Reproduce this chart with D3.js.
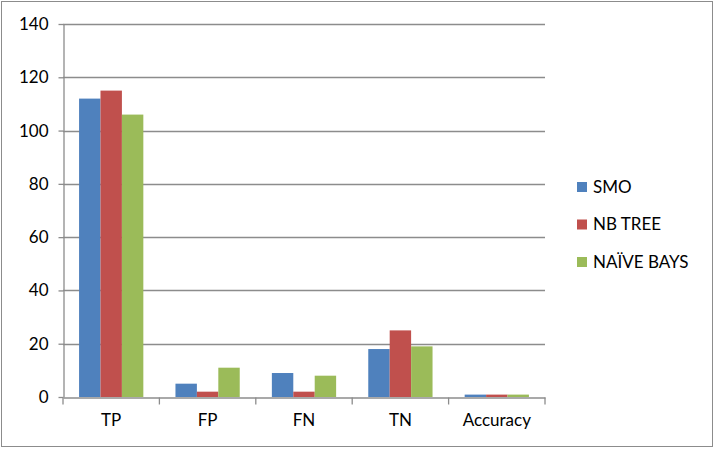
<html>
  <head><meta charset="utf-8"></head>
  <script src="https://d3js.org/d3.v7.min.js"></script>
  <style>
    body, html { margin: 0; padding: 0; background: white; }
    text { font-family: Lato, "Open Sans", sans-serif; fill: #000; }
  </style>
  <body>
    <svg id="chart" width="716" height="450"></svg>
    <script>
      const categories = ["TP", "FP", "FN", "TN", "Accuracy"];
      const seriesNames = ["SMO", "NB TREE", "NA\u00CFVE BAYS"];
      const smo = [112, 5, 9, 18, 0.9];
      const nbTree = [115, 2, 2, 25, 0.9];
      const naiveBays = [106, 11, 8, 19, 0.9];
      const yTicks = [0, 20, 40, 60, 80, 100, 120, 140];
      const colors = ["#4F81BD", "#C0504D", "#9BBB59"];

      const series = [smo, nbTree, naiveBays];
      const svg = d3.select("#chart");

      // outer frame
      svg.append("rect")
        .attr("x", 1.5).attr("y", 1.5)
        .attr("width", 711).attr("height", 445)
        .attr("fill", "white").attr("stroke", "#8c8c8c").attr("stroke-width", 1);

      const plotLeft = 63, plotRight = 545, plotTop = 24, plotBottom = 397;

      const x = d3.scaleBand().domain(categories).range([plotLeft, plotRight]);
      const inner = d3.scaleBand().domain(seriesNames)
        .range([x.bandwidth() / 6, x.bandwidth() * 5 / 6]);
      const y = d3.scaleLinear().domain([0, 140]).range([plotBottom, plotTop]);

      // gridlines
      svg.append("g")
        .selectAll("line")
        .data(yTicks.filter(d => d > 0))
        .enter()
        .append("line")
        .attr("x1", plotLeft).attr("x2", plotRight)
        .attr("y1", d => Math.round(y(d)) + 0.5).attr("y2", d => Math.round(y(d)) + 0.5)
        .attr("stroke", "#8c8c8c").attr("stroke-width", 1.3);

      // bars
      series.forEach((vals, s) => {
        svg.append("g")
          .selectAll("rect")
          .data(vals)
          .enter()
          .append("rect")
          .attr("x", (d, i) => x(categories[i]) + inner(seriesNames[s]))
          .attr("width", inner.bandwidth())
          .attr("y", d => y(d))
          .attr("height", d => y(0) - y(d))
          .attr("fill", colors[s]);
      });

      // y axis
      const yAxis = svg.append("g")
        .attr("transform", `translate(${plotLeft + 0.5},0)`)
        .call(d3.axisLeft(y).tickValues(yTicks).tickSize(5).tickPadding(10).tickSizeOuter(0));
      yAxis.selectAll("line, path").attr("stroke", "#8c8c8c").attr("stroke-width", 1.3);
      yAxis.selectAll("text").style("font-size", "17px").attr("fill", "#000");

      // x axis
      const xAxis = svg.append("g")
        .attr("transform", `translate(0,${plotBottom + 0.5})`)
        .call(d3.axisBottom(x).tickSize(0).tickPadding(16).tickSizeOuter(0));
      xAxis.selectAll("path").attr("stroke", "#8c8c8c").attr("stroke-width", 1.3);
      xAxis.selectAll("text").style("font-size", "17px").attr("fill", "#000");
      // category separators
      xAxis.selectAll("line.sep")
        .data(categories.concat(["end"]))
        .enter()
        .append("line")
        .attr("x1", (d, i) => i < categories.length ? x(d) : plotRight)
        .attr("x2", (d, i) => i < categories.length ? x(d) : plotRight)
        .attr("y1", 0).attr("y2", 7)
        .attr("stroke", "#8c8c8c").attr("stroke-width", 1.3);

      // legend
      const legend = svg.append("g")
        .selectAll("g")
        .data(seriesNames)
        .enter()
        .append("g")
        .attr("transform", (d, i) => `translate(577,${187 + i * 37.5})`);
      legend.append("rect")
        .attr("x", 0).attr("y", -5)
        .attr("width", 10).attr("height", 10)
        .attr("fill", (d, i) => colors[i]);
      legend.append("text")
        .attr("x", 16).attr("y", 0).attr("dy", "0.35em")
        .style("font-size", "17px")
        .text(d => d);
    </script>
  </body>
</html>
